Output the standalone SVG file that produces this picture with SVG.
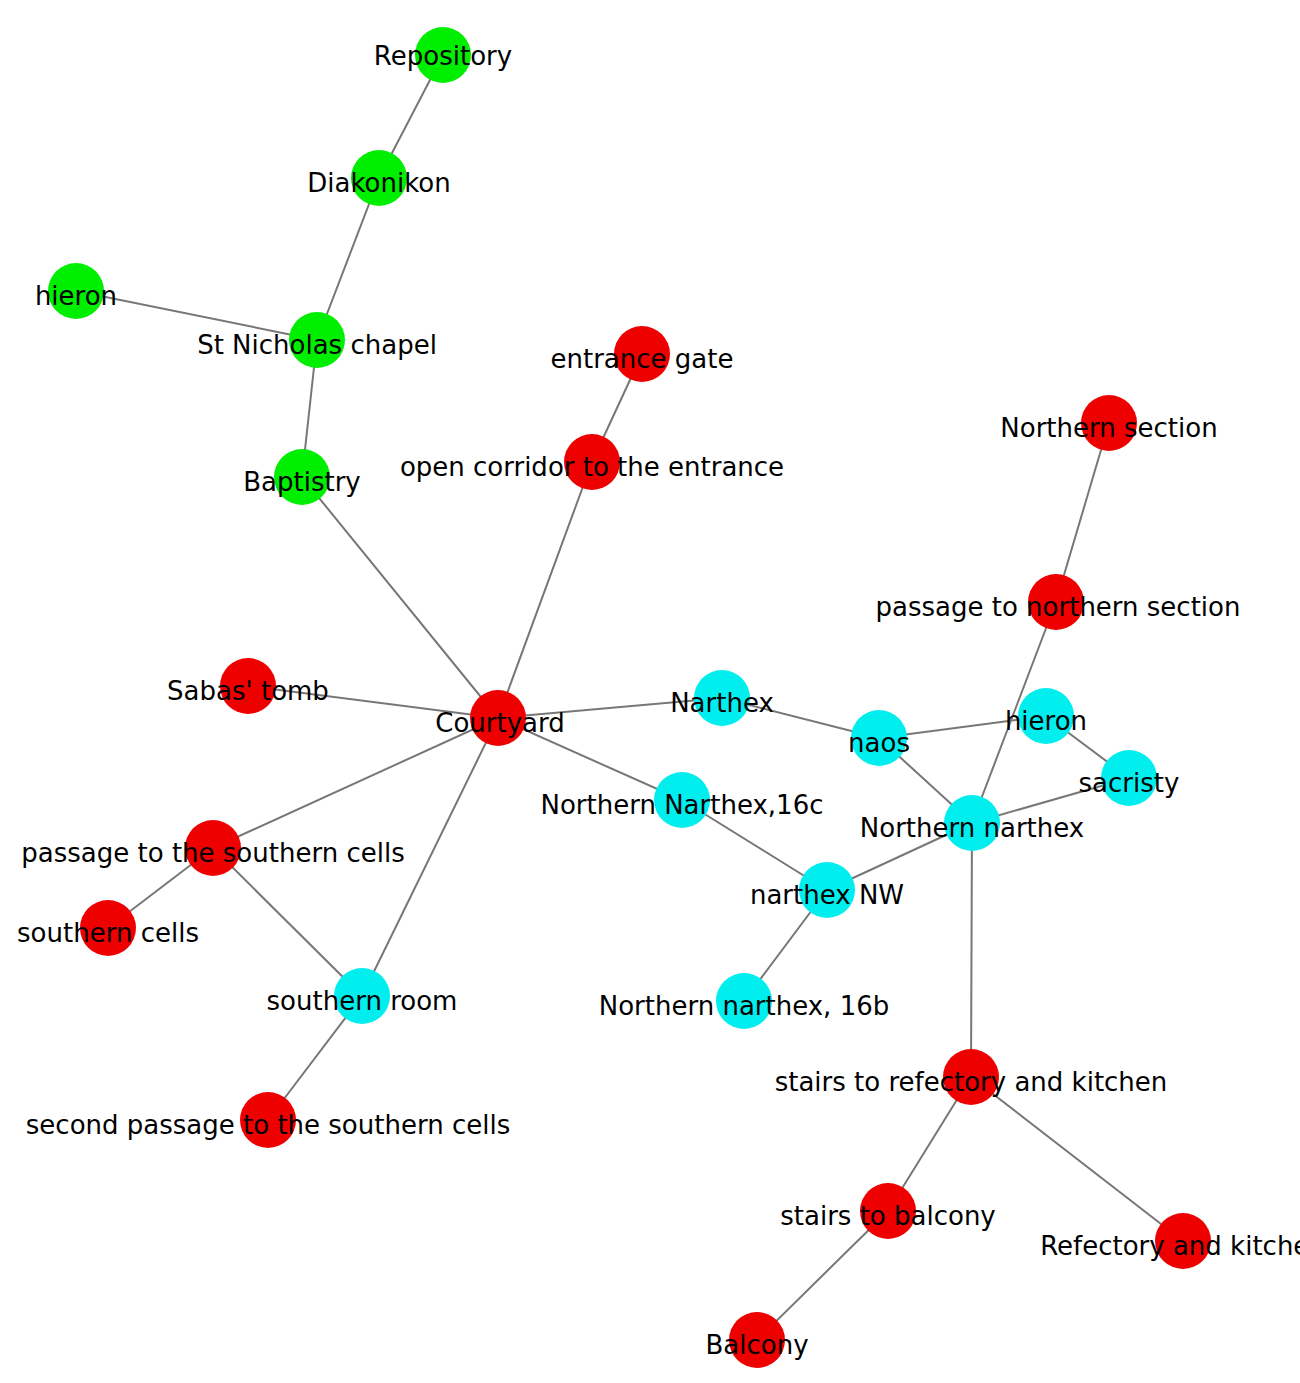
<svg xmlns="http://www.w3.org/2000/svg" width="1300" height="1383" viewBox="0 0 1300 1383">
<style>
.e{stroke:#777;stroke-width:2;fill:none}
.g{fill:#00ee00}.r{fill:#ee0000}.c{fill:#00eeee}
text{font-family:"DejaVu Sans",sans-serif;font-size:26px;fill:#000;text-anchor:middle}
</style>
<rect width="1300" height="1383" fill="#fff"/>
<g id="edges">
<path class="e" d="M443 55L379 178M379 178L317 340M76 291L317 340M317 340L302 477M302 477L498 718M642 354L592 462M592 462L498 718M1109 423L1056 602M1056 602L972 823M248 686L498 718M498 718L722 698M722 698L879 738M879 738L1046 716M879 738L972 823M1046 716L1129 778M1129 778L972 823M498 718L682 800M682 800L827 890M827 890L972 823M827 890L744 1001M498 718L213 848M213 848L108 928M213 848L362 996M498 718L362 996M362 996L268 1120M972 823L971 1077M971 1077L888 1211M971 1077L1183 1241M888 1211L757 1340"/>
</g>
<g id="n1"><circle class="g" cx="443" cy="55" r="28"/><text x="443" y="65">Repository</text></g>
<g id="n2"><circle class="g" cx="379" cy="178" r="28"/><text x="379" y="192">Diakonikon</text></g>
<g id="n3"><circle class="g" cx="76" cy="291" r="28"/><text x="76" y="305">hieron</text></g>
<g id="n4"><circle class="g" cx="317" cy="340" r="28"/><text x="317" y="354">St Nicholas chapel</text></g>
<g id="n5"><circle class="g" cx="302" cy="477" r="28"/><text x="302" y="491">Baptistry</text></g>
<g id="n6"><circle class="r" cx="642" cy="354" r="28"/><text x="642" y="368">entrance gate</text></g>
<g id="n7"><circle class="r" cx="592" cy="462" r="28"/><text x="592" y="476">open corridor to the entrance</text></g>
<g id="n8"><circle class="r" cx="1109" cy="423" r="28"/><text x="1109" y="437">Northern section</text></g>
<g id="n9"><circle class="r" cx="1056" cy="602" r="28"/><text x="1058" y="616">passage to northern section</text></g>
<g id="n10"><circle class="r" cx="248" cy="686" r="28"/><text x="248" y="700">Sabas' tomb</text></g>
<g id="n11"><circle class="r" cx="498" cy="718" r="28"/><text x="500" y="732">Courtyard</text></g>
<g id="n12"><circle class="c" cx="722" cy="698" r="28"/><text x="722" y="712">Narthex</text></g>
<g id="n13"><circle class="c" cx="879" cy="738" r="28"/><text x="879" y="752">naos</text></g>
<g id="n14"><circle class="c" cx="1046" cy="716" r="28"/><text x="1046" y="730">hieron</text></g>
<g id="n15"><circle class="c" cx="1129" cy="778" r="28"/><text x="1129" y="792">sacristy</text></g>
<g id="n16"><circle class="c" cx="682" cy="800" r="28"/><text x="682" y="814">Northern Narthex,16c</text></g>
<g id="n17"><circle class="c" cx="972" cy="823" r="28"/><text x="972" y="837">Northern narthex</text></g>
<g id="n18"><circle class="c" cx="827" cy="890" r="28"/><text x="827" y="904">narthex NW</text></g>
<g id="n19"><circle class="r" cx="213" cy="848" r="28"/><text x="213" y="862">passage to the southern cells</text></g>
<g id="n20"><circle class="r" cx="108" cy="928" r="28"/><text x="108" y="942">southern cells</text></g>
<g id="n21"><circle class="c" cx="362" cy="996" r="28"/><text x="362" y="1010">southern room</text></g>
<g id="n22"><circle class="c" cx="744" cy="1001" r="28"/><text x="744" y="1015">Northern narthex, 16b</text></g>
<g id="n23"><circle class="r" cx="971" cy="1077" r="28"/><text x="971" y="1091">stairs to refectory and kitchen</text></g>
<g id="n24"><circle class="r" cx="268" cy="1120" r="28"/><text x="268" y="1134">second passage to the southern cells</text></g>
<g id="n25"><circle class="r" cx="888" cy="1211" r="28"/><text x="888" y="1225">stairs to balcony</text></g>
<g id="n26"><circle class="r" cx="1183" cy="1241" r="28"/><text x="1183" y="1255">Refectory and kitchen</text></g>
<g id="n27"><circle class="r" cx="757" cy="1340" r="28"/><text x="757" y="1354">Balcony</text></g>
</svg>
